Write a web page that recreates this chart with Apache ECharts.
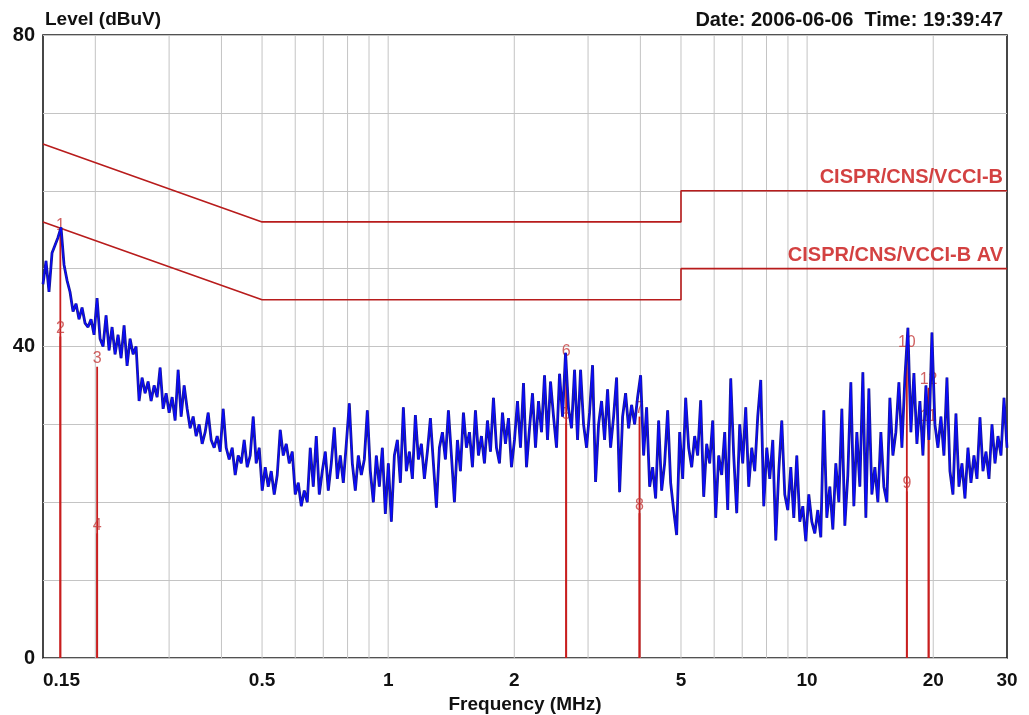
<!DOCTYPE html>
<html>
<head>
<meta charset="utf-8">
<title>Conducted emission scan</title>
<script src="https://cdn.jsdelivr.net/npm/echarts@6/dist/echarts.min.js"></script>
<style>
  html, body { margin: 0; padding: 0; background: #ffffff; }
  #chart { width: 1029px; height: 715px; }
</style>
</head>
<body>
<div id="chart"></div>
<script>
// Receiver sweep: start / stop frequency in MHz (log-spaced steps)
const sweepStart = 0.15;
const sweepStop = 30;

// Measured level in dBuV, one reading per sweep step
const traceLevels = [
  48, 51, 47, 52, 53, 54, 55.3, 50.5, 48.5, 47, 44.5, 45.5, 43.5, 45, 43, 42.5, 43.5, 41.5, 46.2, 41,
  40, 44, 39.5, 42.5, 39, 41.5, 38.5, 42.7, 37.5, 41, 39, 40, 33, 36, 34, 35.5, 33, 35, 33.5, 37.3,
  32, 34, 31.5, 33.5, 30.5, 37, 31, 35, 32, 29.5, 31, 28.5, 30, 27.5, 29, 31.5, 28, 27, 28.5, 26.5,
  32, 27, 25.5, 27, 23.5, 26, 25, 28, 24.5, 26, 31, 25, 27, 21.5, 24.5, 22, 24, 21, 23.5, 29.3,
  26, 27.5, 25, 26.5, 21, 22.5, 19.5, 21.5, 20, 27, 22, 28.5, 21, 24, 26.5, 21.5, 25, 29.6, 23, 26,
  22.5, 27.5, 32.7, 25, 21.5, 26, 23.5, 25.5, 31.8, 24, 20, 26, 22, 27, 18.5, 25, 17.5, 26, 28, 22.5,
  32.2, 24, 26.5, 23, 31.2, 25.5, 27.5, 23, 26.5, 30.8, 25, 19.3, 27, 29, 25.5, 31.8, 26, 20, 28, 24,
  31.5, 27, 29, 24.5, 31.8, 26, 28.5, 25, 30.5, 26.5, 33.4, 27, 25, 31.5, 27.5, 30.8, 24.5, 28, 33, 27,
  35.3, 24.5, 29.5, 34, 27, 33, 29, 36.3, 28, 35.5, 31, 27, 36.5, 31, 39.2, 32, 29.5, 37, 28, 37,
  30, 27, 31.5, 37.6, 22.6, 30, 33, 28, 34.5, 27, 31, 36, 21.3, 31, 34, 29.5, 32.5, 30, 33.5, 36.3,
  26, 32.2, 22, 24.5, 20.5, 30.5, 21.5, 25, 31.8, 22.5, 19, 15.8, 29, 23, 33.4, 27, 24.5, 28.5, 26, 33.1,
  20.7, 27.5, 25, 30.5, 18, 26, 23.5, 29, 19, 35.9, 26, 18.6, 30, 25, 32.2, 22, 27, 24, 31, 35.7,
  19.5, 27, 23, 28, 15.1, 24, 30.5, 21, 19, 24.5, 18, 26, 17.5, 19.5, 15, 21, 17.5, 16, 19, 15.5,
  31.8, 18, 22, 16.5, 25, 20, 32, 17, 23.5, 35.4, 19.5, 29, 22, 36.7, 18, 34.6, 21, 24.5, 20, 29,
  22, 20, 33.4, 26, 29, 35.4, 27, 36, 42.4, 29, 36.6, 27.5, 33, 26, 35, 28, 41.8, 30, 27, 31,
  26, 36, 24, 21, 31.4, 22, 25, 20.5, 27, 22.5, 26, 23, 30.9, 24, 26.5, 23, 30, 25, 28.5, 26,
  33.4, 27
];

// CISPR 22 class B limit lines (frequency MHz / level dBuV)
const limitFreqs = [0.15, 0.5, 5, 5, 30];
const limitQP = [66, 56, 56, 60, 60];
const limitAV = [56, 46, 46, 50, 50];
const limitNames = ['CISPR/CNS/VCCI-B', 'CISPR/CNS/VCCI-B AV'];

// Marker readings (numbered 1..12)
const markerFreqs = [0.165, 0.165, 0.202, 0.202, 2.66, 2.66, 3.98, 3.98, 17.3, 17.3, 19.5, 19.5];
const markerLevels = [54.5, 41.3, 37.4, 16.0, 30.2, 38.3, 31.0, 18.6, 21.4, 39.5, 30.0, 34.7];

// Axis ticks
const freqGridLines = [0.2, 0.3, 0.4, 0.5, 0.6, 0.7, 0.8, 0.9, 1, 2, 3, 4, 5, 6, 7, 8, 9, 10, 20];
const freqTickLabels = [0.15, 0.5, 1, 2, 5, 10, 20, 30];
const levelMin = 0, levelMax = 80, levelStep = 10, levelLabelStep = 40;

const lg = Math.log10;
const fmtFreq = f => String(+f.toPrecision(3));

// Log-spaced sweep positions for the trace
const n = traceLevels.length;
const traceData = traceLevels.map((v, i) => {
  const f = sweepStart * Math.pow(sweepStop / sweepStart, i / (n - 1));
  return [lg(f), v];
});

const FONT = '"Liberation Sans", Arial, sans-serif';
const TEXT = { fontFamily: FONT, fontWeight: 'bold', fontSize: 19, color: '#111' };

const chart = echarts.init(document.getElementById('chart'), null, { renderer: 'canvas' });

// Vertical line drawn at a data item's x between two levels
function vLine(style) {
  return function (params, api) {
    const x = api.value(0);
    const p1 = api.coord([x, api.value(2)]);
    const p2 = api.coord([x, api.value(1)]);
    return {
      type: 'line',
      shape: { x1: p1[0], y1: p1[1], x2: p2[0], y2: p2[1] },
      style: style
    };
  };
}

const limitSeries = [limitQP, limitAV].map((lv, k) => ({
  type: 'line',
  name: limitNames[k],
  z: 4,
  silent: true,
  symbol: 'none',
  lineStyle: { color: '#b81c1c', width: 1.6 },
  data: limitFreqs.map((f, i) => [lg(f), lv[i]])
}));

// Limit names, placed above the right-hand end of each limit line
const limitLabelSeries = {
  type: 'scatter',
  z: 4,
  silent: true,
  symbolSize: 0,
  data: [limitQP, limitAV].map((lv, k) => ({
    value: [lg(limitFreqs[limitFreqs.length - 1]), lv[lv.length - 1]],
    name: limitNames[k]
  })),
  label: {
    show: true,
    position: 'top',
    align: 'right',
    distance: 3,
    offset: [-4, 0],
    formatter: p => p.name,
    color: '#c81212',
    fontFamily: FONT,
    fontWeight: 'bold',
    fontSize: 20
  }
};

const option = {
  animation: false,
  backgroundColor: '#ffffff',
  title: [
    { text: 'Level (dBuV)', left: 40, top: 5, textStyle: TEXT },
    { text: 'Date: 2006-06-06  Time: 19:39:47', right: 21, top: 5, textStyle: Object.assign({}, TEXT, { fontSize: 20 }) }
  ],
  grid: {
    left: 43, right: 22, top: 35, bottom: 57,
    outerBoundsMode: 'none',
    containLabel: false,
    show: true, borderColor: '#1a1a1a', borderWidth: 1.6, backgroundColor: '#ffffff'
  },
  xAxis: {
    type: 'value',
    min: lg(sweepStart),
    max: lg(sweepStop),
    name: 'Frequency (MHz)',
    nameLocation: 'middle',
    nameGap: 35,
    nameTextStyle: TEXT,
    axisLine: { show: false },
    axisTick: { show: false },
    splitLine: { show: false },
    axisLabel: Object.assign({
      customValues: freqTickLabels.map(lg),
      formatter: v => fmtFreq(Math.pow(10, v)),
      alignMinLabel: 'left',
      margin: 13
    }, TEXT)
  },
  yAxis: {
    type: 'value',
    min: levelMin, max: levelMax, interval: levelStep,
    axisLine: { show: false },
    axisTick: { show: false },
    splitLine: { show: true, lineStyle: { color: '#c4c4c4', width: 1 } },
    axisLabel: Object.assign({
      formatter: v => (v % levelLabelStep === 0 ? String(v) : ''),
      margin: 8
    }, TEXT, { fontSize: 20 })
  },
  series: [
    {
      // frequency grid lines
      type: 'custom',
      z: 1,
      silent: true,
      renderItem: vLine({ stroke: '#c4c4c4', lineWidth: 1 }),
      data: freqGridLines.map(f => [lg(f), levelMax, levelMin])
    },
    ...limitSeries,
    limitLabelSeries,
    {
      // marker stems, from the reading down to 0
      type: 'custom',
      z: 5,
      silent: true,
      renderItem: vLine({ stroke: '#c81e1e', lineWidth: 1.8 }),
      data: markerFreqs.map((f, i) => [lg(f), markerLevels[i], levelMin])
    },
    {
      // marker numbers
      type: 'scatter',
      z: 6,
      silent: true,
      symbolSize: 0,
      data: markerFreqs.map((f, i) => [lg(f), markerLevels[i]]),
      label: {
        show: true,
        position: 'top',
        distance: 0,
        formatter: p => String(p.dataIndex + 1),
        color: '#c43a3a',
        fontFamily: FONT,
        fontSize: 16
      }
    },
    {
      // measured trace (dark edge)
      type: 'line',
      z: 8,
      silent: true,
      symbol: 'none',
      lineStyle: { color: '#1a1a8e', width: 2.8 },
      data: traceData
    },
    {
      // measured trace (core)
      type: 'line',
      z: 9,
      silent: true,
      symbol: 'none',
      lineStyle: { color: '#0a0aff', width: 1.3 },
      data: traceData
    }
  ]
};

chart.setOption(option);
</script>
</body>
</html>
